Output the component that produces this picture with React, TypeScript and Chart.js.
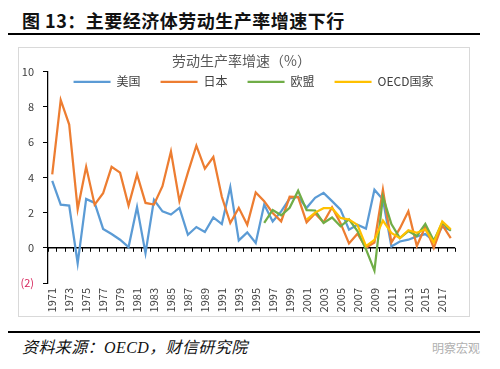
import React, { useEffect, useRef } from 'react';
import { Chart, registerables } from 'chart.js';

Chart.register(...registerables);

const years = [
  '1971', '1972', '1973', '1974', '1975', '1976', '1977', '1978', '1979', '1980',
  '1981', '1982', '1983', '1984', '1985', '1986', '1987', '1988', '1989', '1990',
  '1991', '1992', '1993', '1994', '1995', '1996', '1997', '1998', '1999', '2000',
  '2001', '2002', '2003', '2004', '2005', '2006', '2007', '2008', '2009', '2010',
  '2011', '2012', '2013', '2014', '2015', '2016', '2017', '2018',
];

const usa = [
  3.8, 2.45, 2.4, -0.88, 2.78, 2.55, 1.07, 0.78, 0.46, 0.04,
  2.32, -0.3, 2.72, 2.07, 1.89, 2.27, 0.74, 1.18, 0.9, 1.73,
  1.35, 3.45, 0.42, 0.88, 0.27, 2.46, 1.5, 2.07, 2.8, 2.9,
  2.27, 2.84, 3.12, 2.65, 2.17, 1.03, 1.31, 1.09, 3.3, 2.74,
  0.08, 0.36, 0.46, 0.65, 0.78, 0.4, 1.2, 1.0,
];

const japan = [
  4.17, 8.4, 7.0, 2.2, 4.6, 2.45, 3.1, 4.6, 4.27, 2.4,
  4.17, 2.55, 2.46, 3.5, 5.47, 2.65, 4.27, 5.8, 4.5, 5.16,
  2.9, 1.41, 2.27, 1.31, 3.15, 2.65, 1.98, 1.5, 2.9, 2.88,
  1.45, 1.95, 1.45, 2.3, 1.4, 0.25, 0.8, 0.0, 0.3, 3.3,
  0.3, 1.1, 2.07, 0.1, 1.2, 0.0, 1.3, 0.55,
];

const eu = [
  null, null, null, null, null, null, null, null, null, null,
  null, null, null, null, null, null, null, null, null, null,
  null, null, null, null, null, 1.41, 2.15, 1.85, 2.27, 3.24,
  2.14, 2.12, 1.41, 1.72, 1.22, 1.62, 0.95, -0.08, -1.3, 2.9,
  1.35, 0.55, 0.95, 0.67, 1.36, 0.4, 1.43, 0.97,
];

const oecd = [
  null, null, null, null, null, null, null, null, null, null,
  null, null, null, null, null, null, null, null, null, null,
  null, null, null, null, null, null, null, null, null, null,
  1.6, 2.0, 2.25, 2.25, 1.7, 1.6, 1.3, 0.1, 0.45, 1.55,
  0.85, 0.55, 1.0, 0.85, 1.05, 0.3, 1.5, 1.05,
];

const seriesNames = ['美国', '日本', '欧盟', 'OECD国家'];
const seriesColors = ['#5b9bd5', '#ed7d31', '#70ad47', '#ffc000'];

const chartTitle = '劳动生产率增速（%）';
const FONT = "'Noto Sans CJK SC', 'Noto Sans', sans-serif";

const zeroAxisPlugin = {
  id: 'zeroAxis',
  beforeDatasetsDraw(chart: any) {
    const { ctx, chartArea, scales } = chart;
    const xs = scales.x;
    const y0 = scales.y.getPixelForValue(0);
    ctx.save();
    ctx.strokeStyle = '#000';
    ctx.lineWidth = 1.5;
    ctx.beginPath();
    ctx.moveTo(chartArea.left, y0);
    ctx.lineTo(chartArea.right, y0);
    ctx.stroke();
    ctx.lineWidth = 1;
    ctx.beginPath();
    const n = xs.getLabels().length;
    for (let i = 0; i <= n; i++) {
      const px = Math.round(xs.getPixelForValue(i - 0.5)) + 0.5;
      ctx.moveTo(px, y0);
      ctx.lineTo(px, y0 + 4);
    }
    ctx.stroke();
    ctx.restore();
  },
};

const legendPlacePlugin = {
  id: 'legendPlace',
  afterLayout(chart: any) {
    const lg = chart.legend;
    const ca = chart.chartArea;
    if (!lg) return;
    lg.left = ca.left - 10;
    lg.right = ca.right + 14;
    lg.width = lg.right - lg.left;
    lg.top = ca.top - 16;
    lg.bottom = lg.top + 40;
    lg.height = 40;
  },
};

function ChartBox() {
  const ref = useRef<HTMLCanvasElement | null>(null);
  useEffect(() => {
    if (!ref.current) return;
    Chart.defaults.font.family = FONT;
    const series = [usa, japan, eu, oecd];
    const chart = new Chart(ref.current, {
      type: 'line',
      data: {
        labels: years,
        datasets: series.map((d, i) => ({
          label: seriesNames[i],
          data: d,
          borderColor: seriesColors[i],
          backgroundColor: seriesColors[i],
          borderWidth: 2.25,
          pointRadius: 0,
          tension: 0,
          order: 4 - i,
        })),
      },
      options: {
        animation: false,
        responsive: false,
        maintainAspectRatio: false,
        layout: { padding: { right: 5 } },
        plugins: {
          title: {
            display: true,
            text: chartTitle,
            color: '#595959',
            font: { size: 14, weight: 'normal' as any, family: FONT },
            padding: { top: 4, bottom: 2 },
          },
          legend: {
            display: true,
            position: 'top',
            maxHeight: 1,
            labels: {
              usePointStyle: true,
              pointStyle: 'line',
              pointStyleWidth: 37,
              boxHeight: 12,
              padding: 20,
              color: '#404040',
              font: { size: 12, family: FONT },
              sort: (a: any, b: any) => a.datasetIndex - b.datasetIndex,
            },
          },
          tooltip: { enabled: false },
        },
        scales: {
          x: {
            type: 'category',
            offset: true,
            grid: { display: false, drawTicks: false },
            border: { display: false },
            ticks: {
              autoSkip: false,
              minRotation: 90,
              maxRotation: 90,
              padding: 5,
              color: '#404040',
              font: { size: 11, family: FONT },
              callback: (_v: any, i: number) => (i % 2 === 0 ? years[i] : ''),
            },
            afterFit: (s: any) => {
              s.height = 33;
            },
          },
          y: {
            min: -2,
            max: 10,
            grid: {
              display: true,
              drawOnChartArea: false,
              drawTicks: true,
              tickLength: 5,
              color: '#000',
            },
            border: { display: true, color: '#000', width: 1.25 },
            ticks: {
              stepSize: 2,
              padding: 9,
              font: { size: 11, family: FONT },
              color: (c: any) => (c.tick && c.tick.value < 0 ? '#d6245b' : '#404040'),
              callback: (v: any) => (v < 0 ? `(${-v})` : `${v}`),
            },
            afterFit: (s: any) => {
              s.width = 29;
            },
          },
        },
      },
      plugins: [zeroAxisPlugin, legendPlacePlugin],
    });
    return () => chart.destroy();
  }, []);
  return <canvas ref={ref} width={450} height={268} style={{ position: 'absolute', left: 19, top: 48, width: 450, height: 268 }} />;
}

export default function App() {
  return (
    <div style={{ position: 'absolute', left: 0, top: 0, width: 500, height: 369, background: '#fff', overflow: 'hidden' }}>
      <div
        style={{
          position: 'absolute',
          left: 22,
          top: 8,
          lineHeight: '24px',
          fontSize: 18,
          fontWeight: 700,
          fontFamily: FONT,
          color: '#111',
          whiteSpace: 'nowrap',
          letterSpacing: 0.5,
        }}
      >
        图 13：主要经济体劳动生产率增速下行
      </div>
      <div style={{ position: 'absolute', left: 8, top: 33, width: 472, height: 2, background: '#000' }} />
      <div
        style={{
          position: 'absolute',
          left: 18,
          top: 47,
          width: 450,
          height: 268,
          border: '1px solid #d9d9d9',
        }}
      />
      <ChartBox />
      <div style={{ position: 'absolute', left: 8, top: 331, width: 472, height: 2, background: '#000' }} />
      <div
        style={{
          position: 'absolute',
          left: 22,
          top: 338,
          lineHeight: '20px',
          fontSize: 16,
          fontStyle: 'italic',
          fontFamily: "'Liberation Serif', 'Noto Sans CJK SC', serif",
          color: '#111',
          whiteSpace: 'nowrap',
          letterSpacing: 0.4,
        }}
      >
        资料来源：OECD，财信研究院
      </div>
      <div
        style={{
          position: 'absolute',
          left: 432,
          top: 339,
          lineHeight: '18px',
          fontSize: 12,
          fontFamily: FONT,
          color: '#b0b0b0',
          whiteSpace: 'nowrap',
        }}
      >
        明察宏观
      </div>
    </div>
  );
}
